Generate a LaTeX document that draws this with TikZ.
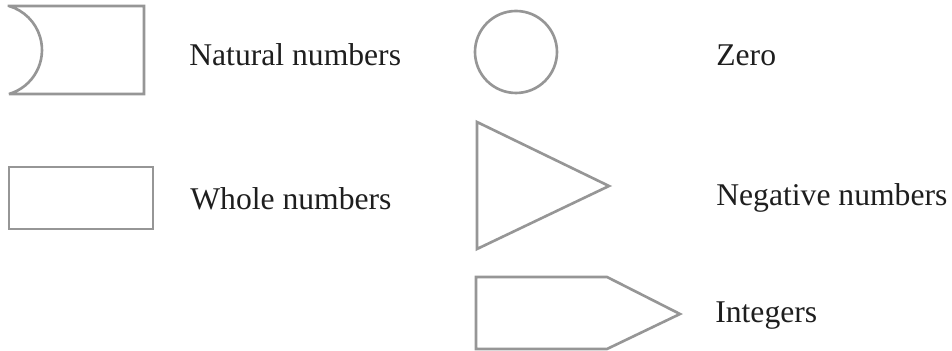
\documentclass[tikz,border=0pt]{standalone}
\usepackage{fontspec}
\setmainfont{Liberation Serif}
\usepackage{tikz}
\usetikzlibrary{positioning,calc}
\definecolor{ShapeGray}{RGB}{150,150,150}
\definecolor{LabelInk}{RGB}{30,30,30}

\begin{document}
\begin{tikzpicture}[
      shp/.style={draw=ShapeGray,line width=1.5pt,fill=white,line join=miter},
      lbl/.style={anchor=base west,inner sep=0pt,text=LabelInk,
                  font=\fontsize{18}{22}\selectfont}
    ]
    \useasboundingbox (0,0) rectangle (19.04,7.02);

    % Left column: natural and whole numbers
    \draw[shp,miter limit=2] (0.18,6.90) -- (2.88,6.90) -- (2.88,5.14) -- (0.18,5.14)
      arc[start angle=-73.7,end angle=73.7,radius=0.9167] -- cycle;
    \draw[shp] (0.18,3.68) rectangle (3.06,2.44);

    % Right column: zero, negatives, integers
    \draw[shp] (10.32,5.98) circle[radius=0.82];
    \draw[shp] (9.54,4.58) -- (12.18,3.30) -- (9.54,2.04) -- cycle;
    \draw[shp] (9.52,1.48) -- (12.14,1.48) -- (13.60,0.74) -- (12.14,0.04) -- (9.52,0.04) -- cycle;

    % Labels
    \node(natural)[lbl] at (3.78,5.70) {Natural numbers};
    \node(whole)[lbl] at (3.80,2.82) {Whole numbers};
    \node(zero)[lbl] at (14.32,5.70) {Zero};
    \node(negative)[lbl] at (14.32,2.90) {Negative numbers};
    \node(integers)[lbl] at (14.30,0.56) {Integers};
  \end{tikzpicture}
\end{document}
